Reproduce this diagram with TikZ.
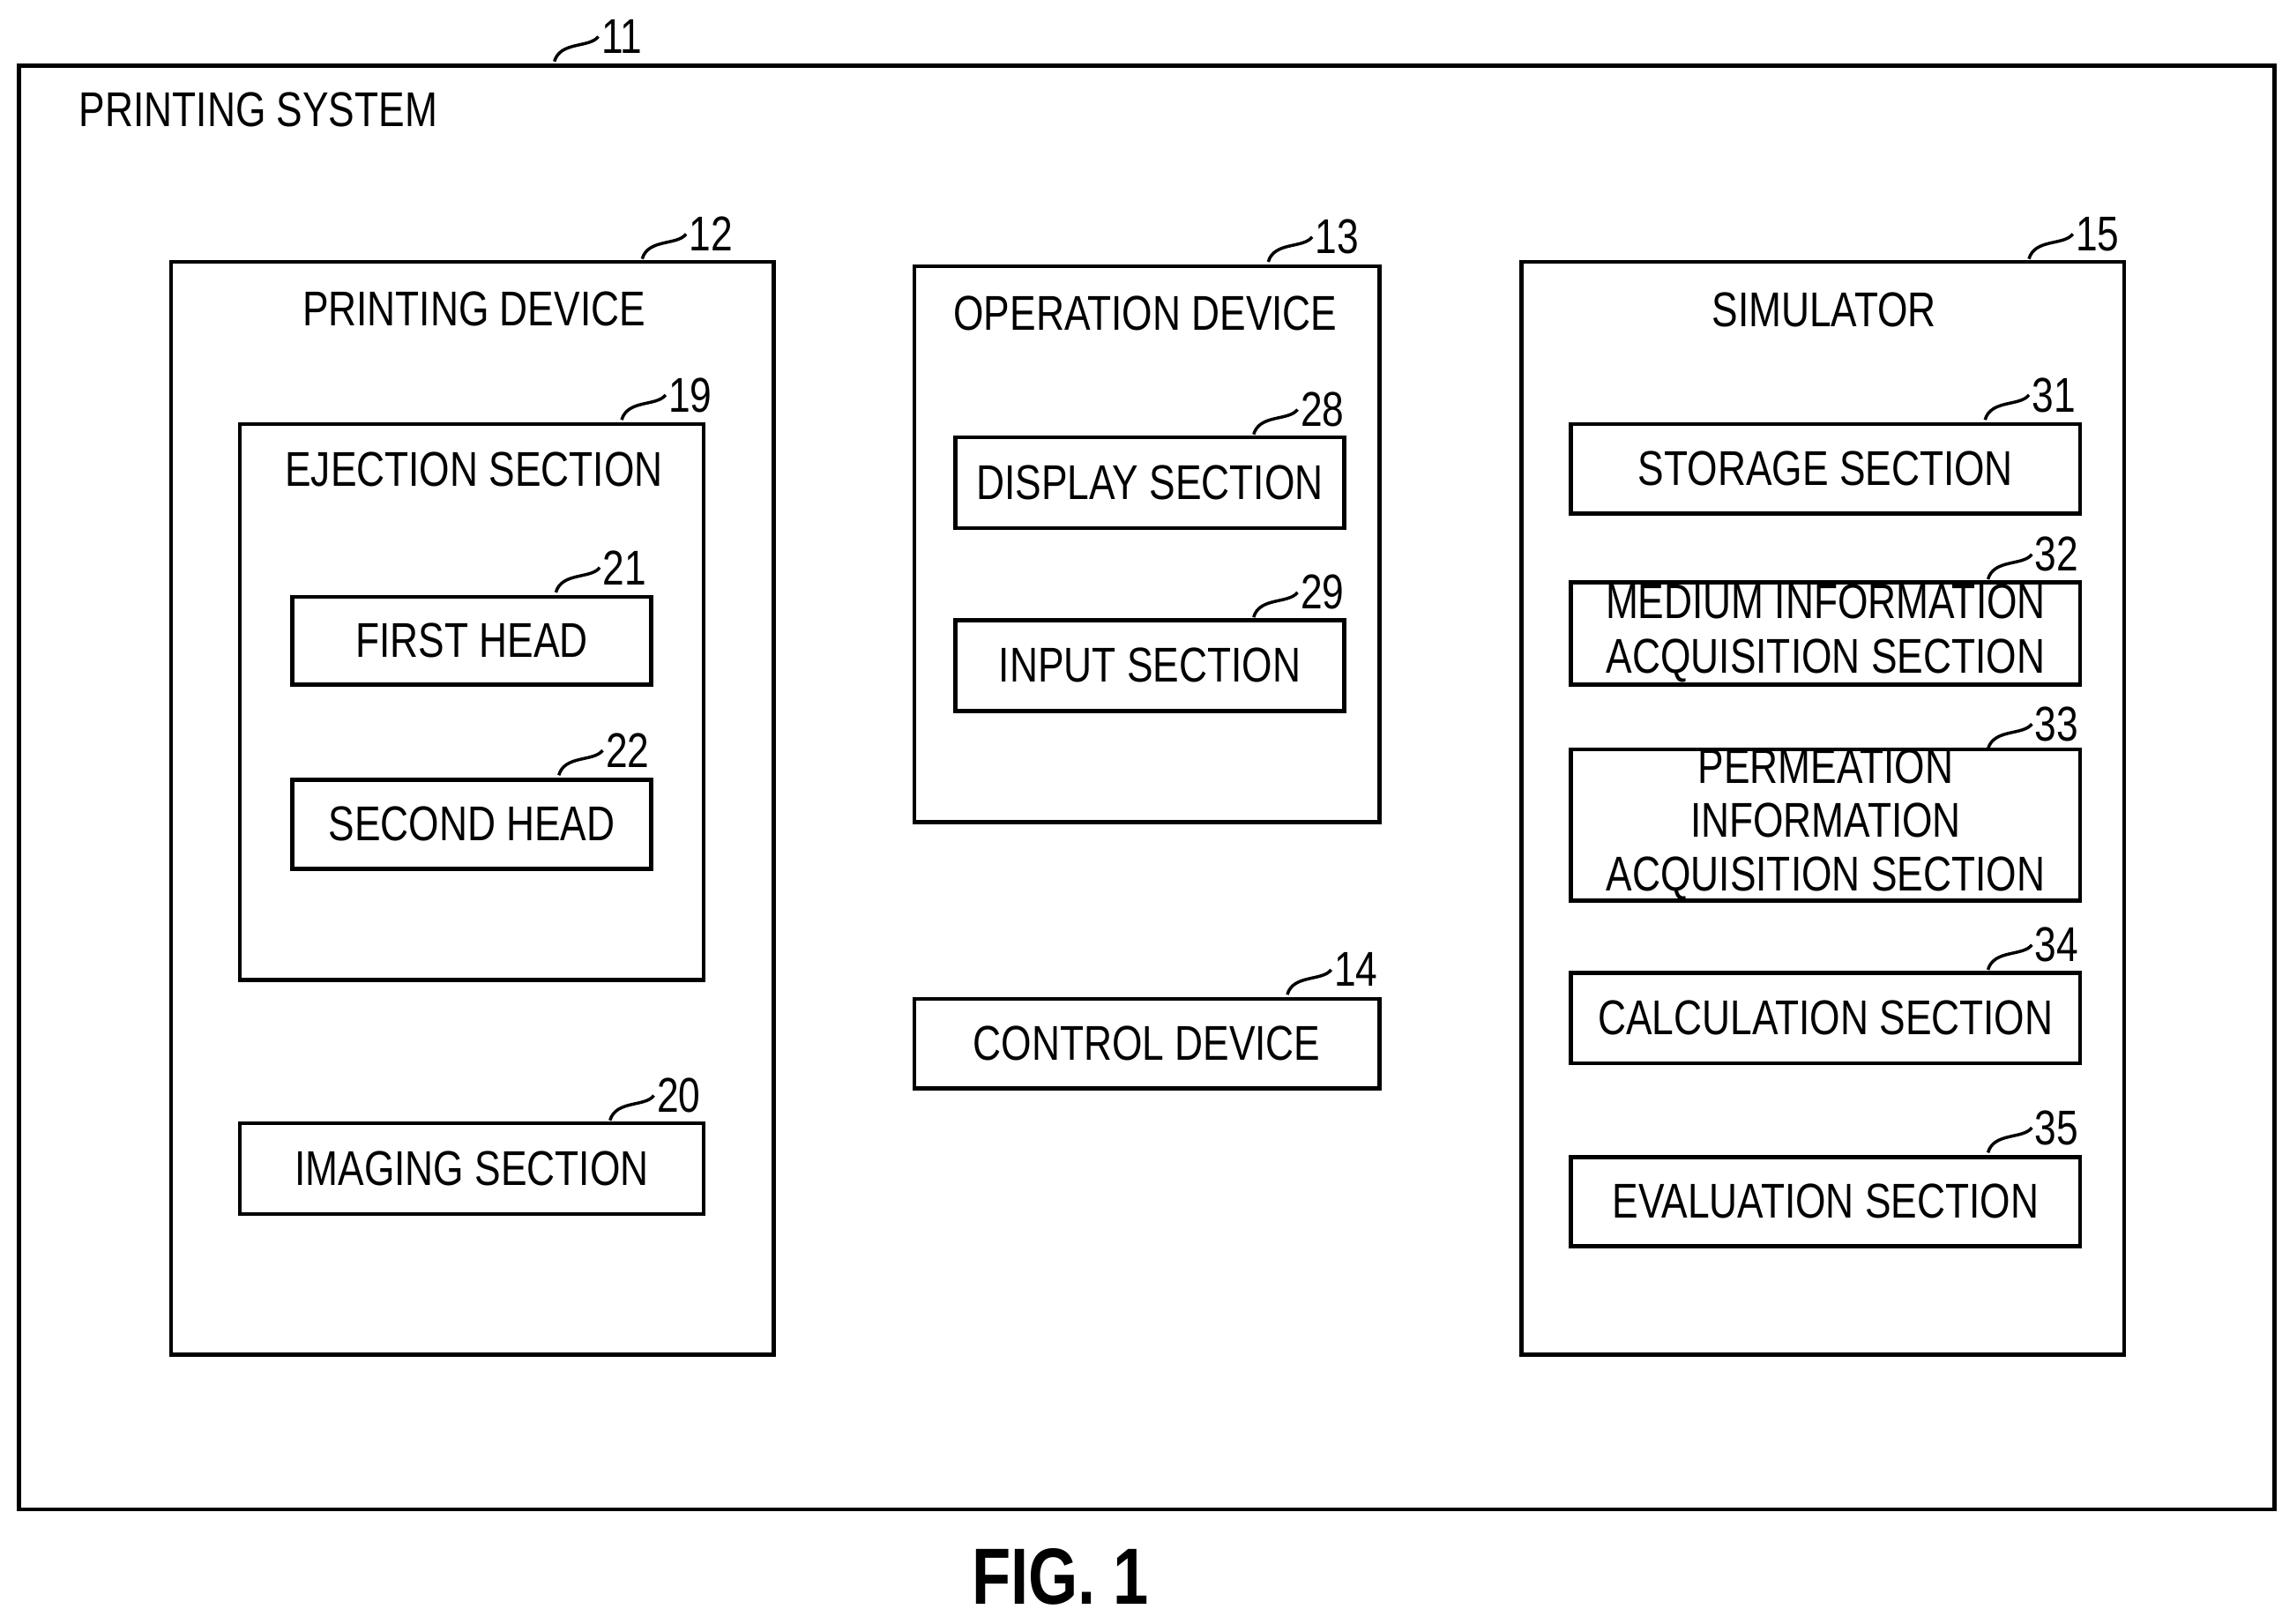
\documentclass[tikz,border=0pt]{standalone}
\usepackage{fontspec}
\setmainfont[FakeStretch=0.8]{Liberation Sans}
\usetikzlibrary{positioning}
\tikzset{
   box/.style={draw,line width=1.6pt,inner sep=0pt,align=center,font=\fontsize{19}{21}\selectfont},
   num/.style={anchor=west,inner sep=1pt,font=\fontsize{19}{19}\selectfont},
   lead/.style={line width=1.2pt}
}
% box: name, x1, y1, x2, y2, text
\newcommand{\blk}[6]{\node[box,minimum width={(#4-#2)*0.02cm},minimum height={(#5-#3)*0.02cm}] (#1) at ({(#2+#4)/2},{(#3+#5)/2}) {#6};}
% leader with reference number centred near (x,y)
\newcommand{\leader}[3]{\draw[lead] (#1-46,#2+17) .. controls (#1-42,#2+3) and (#1-22,#2+8) .. (#1-16,#2);
  \node[num] at (#1-16,#2) {#3};}
\begin{document}
\begin{tikzpicture}[x=0.02cm,y=-0.02cm]
\useasboundingbox (0,0) rectangle (1560,1110);
\blk{sys}{13}{45}{1555}{1032}{}
\node[anchor=west,font=\fontsize{19}{19}\selectfont] (systxt) at (48,75) {PRINTING SYSTEM};
\leader{425}{25}{11}
% printing device
\blk{prt}{117}{179}{529}{926}{}
\node[font=\fontsize{19}{19}\selectfont] (prttxt) at (324,211) {PRINTING DEVICE};
\leader{485}{160}{12}
\blk{ejc}{164}{290}{481}{670}{}
\node[font=\fontsize{19}{19}\selectfont] (ejctxt) at (324,321) {EJECTION SECTION};
\leader{471}{270}{19}
\blk{head1}{200}{408}{445}{468}{FIRST HEAD}
\leader{426}{388}{21}
\blk{head2}{200}{533}{445}{594}{SECOND HEAD}
\leader{428}{513}{22}
\blk{img}{164}{768}{481}{830}{IMAGING SECTION}
\leader{463}{749}{20}
% operation device
\blk{ope}{625}{182}{943}{562}{}
\node[font=\fontsize{19}{19}\selectfont] (opetxt) at (783,214) {OPERATION DEVICE};
\leader{913}{162}{13}
\blk{disp}{653}{299}{919}{361}{DISPLAY SECTION}
\leader{903}{280}{28}
\blk{inp}{653}{424}{919}{486}{INPUT SECTION}
\leader{903}{405}{29}
\blk{ctl}{625}{683}{943}{744}{CONTROL DEVICE}
\leader{926}{663}{14}
% simulator
\blk{sim}{1040}{179}{1452}{926}{}
\node[font=\fontsize{19}{19}\selectfont] (simtxt) at (1247,212) {SIMULATOR};
\leader{1433}{160}{15}
\blk{sto}{1074}{290}{1422}{351}{STORAGE SECTION}
\leader{1403}{270}{31}
\blk{med}{1074}{398}{1422}{468}{MEDIUM INFORMATION\\ACQUISITION SECTION}
\leader{1405}{379}{32}
\blk{per}{1074}{514}{1422}{614}{PERMEATION\\INFORMATION\\ACQUISITION SECTION}
\leader{1405}{495}{33}
\blk{cal}{1074}{665}{1422}{727}{CALCULATION SECTION}
\leader{1405}{646}{34}
\blk{evl}{1074}{791}{1422}{852}{EVALUATION SECTION}
\leader{1405}{771}{35}
\node[font=\fontsize{31}{31}\selectfont\bfseries] (fig) at (725,1078) {FIG. 1};
\end{tikzpicture}
\end{document}
